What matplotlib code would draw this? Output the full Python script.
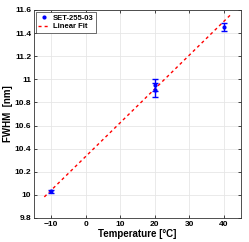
import matplotlib
matplotlib.use("Agg")
import matplotlib.pyplot as plt
from matplotlib.ticker import FuncFormatter

plt.rcParams["font.family"] = ["Liberation Sans", "DejaVu Sans"]

# measured FWHM vs temperature
temps = [-10, 20, 20, 40]
fwhm = [10.03, 10.95, 10.91, 11.45]
fwhm_err = [0.012, 0.05, 0.06, 0.035]

# linear fit coefficients
fit_slope = 0.0292
fit_icpt = 10.333
fit_x = [-12, 41.8]
fit_y = [fit_slope * x + fit_icpt for x in fit_x]

x_ticks = [-10, 0, 10, 20, 30, 40]
y_ticks = [9.8, 10.0, 10.2, 10.4, 10.6, 10.8, 11.0, 11.2, 11.4, 11.6]

fig = plt.figure(figsize=(2.49, 2.42), dpi=100)
ax = fig.add_axes([0.1365, 0.0992, 0.8315, 0.8595])

ax.errorbar(temps, fwhm, yerr=fwhm_err, fmt="none", ecolor="blue",
            elinewidth=1.0, capsize=2.2, capthick=1.0, zorder=3)
ax.plot(temps, fwhm, ".", color="blue", ms=4, label="SET-255-03", zorder=4)
ax.plot(fit_x, fit_y, color="red", ls=(0, (2.2, 2.2)), lw=1.0, label="Linear Fit", zorder=2)

ax.set_xlim(-15, 45)
ax.set_ylim(9.8, 11.6)
ax.set_xticks(x_ticks)
ax.set_yticks(y_ticks)
ax.yaxis.set_major_formatter(FuncFormatter(lambda v, p: f"{v:g}"))
ax.grid(True, color="#e6e6e6", lw=0.6)
ax.set_axisbelow(True)
ax.tick_params(direction="in", length=2, width=0.5, labelsize=6, pad=2,
               top=True, right=True)
for lbl in ax.get_xticklabels() + ax.get_yticklabels():
    lbl.set_fontweight("bold")
for s in ax.spines.values():
    s.set_linewidth(0.6)
    s.set_color("#333333")

ax.set_xlabel("Temperature [\u00b0C]", fontsize=7, fontweight="bold", labelpad=1)
ax.set_ylabel("FWHM  [nm]", fontsize=7, fontweight="bold", labelpad=1)

leg = ax.legend(loc="upper left", prop={"weight": "bold", "size": 5.5},
                handlelength=1.4, handletextpad=0.5, borderpad=0.3, labelspacing=0.2,
                fancybox=False, framealpha=1, edgecolor="#333333",
                borderaxespad=0.25, numpoints=1)
leg.get_frame().set_linewidth(0.5)

fig.savefig("out.png", dpi=100)
